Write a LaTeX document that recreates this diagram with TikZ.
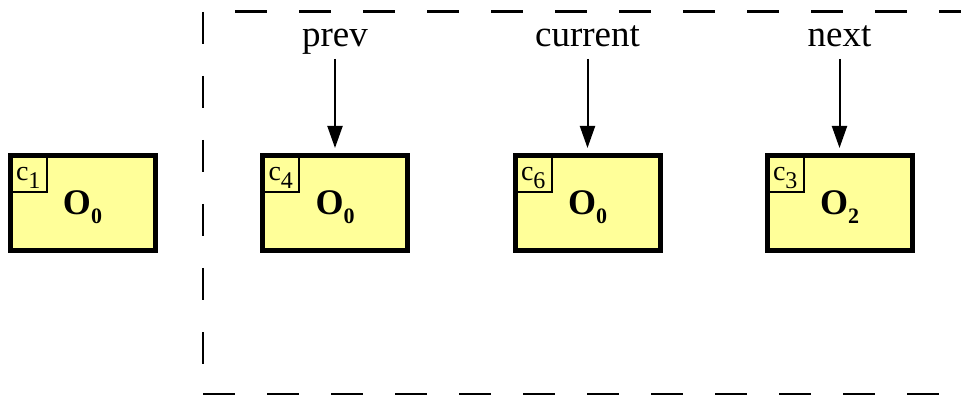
\documentclass[tikz,border=0pt]{standalone}
\usepackage{fontspec}
\setmainfont{Liberation Serif}
\usetikzlibrary{arrows.meta}
\definecolor{boxyellow}{HTML}{FFFF99}
\tikzset{
  objbox/.style={draw=black, fill=boxyellow, line width=5pt, minimum width=145pt,
    minimum height=95pt, inner sep=0pt, outer sep=0pt, text depth=0pt},
  cbox/.style={draw=black, line width=2pt, minimum width=36.5pt, minimum height=36.5pt,
    inner sep=0pt, outer sep=0pt, anchor=north west, text depth=0pt},
  lbl/.style={font=\fontsize{37}{40}\selectfont, inner sep=0pt, anchor=base},
  ptr/.style={line width=2pt, -{Triangle[length=22pt,width=15pt]}, shorten >=7.5pt},
  framedash/.style={line width=2.5pt, dash pattern=on 32pt off 32pt},
}
\newcommand{\objlabel}[1]{{\fontsize{36}{36}\selectfont\bfseries O\raisebox{-9pt}{\fontsize{22}{22}\selectfont #1}}}
\newcommand{\clabel}[1]{{\fontsize{28}{28}\selectfont c\raisebox{-8pt}{\fontsize{24}{24}\selectfont #1}}}
\begin{document}
\begin{tikzpicture}[x=1pt,y=-1pt]
\useasboundingbox (0,0) rectangle (961,395);
\clip (0,0) rectangle (961,395);
% dashed frame
\draw[framedash] (203,12) -- (203,394);
\draw[framedash] (203,394) -- (1000,394);
\draw[framedash, dash phase=32pt] (203,11.5) -- (1000,11.5);
% boxes
\node[objbox] (b1) at (82.5,203) {\objlabel{0}};
\node[objbox] (b2) at (335,203) {\objlabel{0}};
\node[objbox] (b3) at (587.5,203) {\objlabel{0}};
\node[objbox] (b4) at (839.5,203) {\objlabel{2}};
\node[cbox] (c1) at (b1.north west) {\clabel{1}};
\node[cbox] (c4) at (b2.north west) {\clabel{4}};
\node[cbox] (c6) at (b3.north west) {\clabel{6}};
\node[cbox] (c3) at (b4.north west) {\clabel{3}};
% labels
\node[lbl] (lp) at (335,47) {prev};
\node[lbl] (lc) at (587.5,47) {current};
\node[lbl] (ln) at (839.5,47) {next};
% pointers
\draw[ptr] ([yshift=-12pt]lp.base) -- (b2.north);
\draw[ptr] ([yshift=-12pt]lc.base) -- (b3.north);
\draw[ptr] ([yshift=-12pt]ln.base) -- (b4.north);
\end{tikzpicture}
\end{document}
